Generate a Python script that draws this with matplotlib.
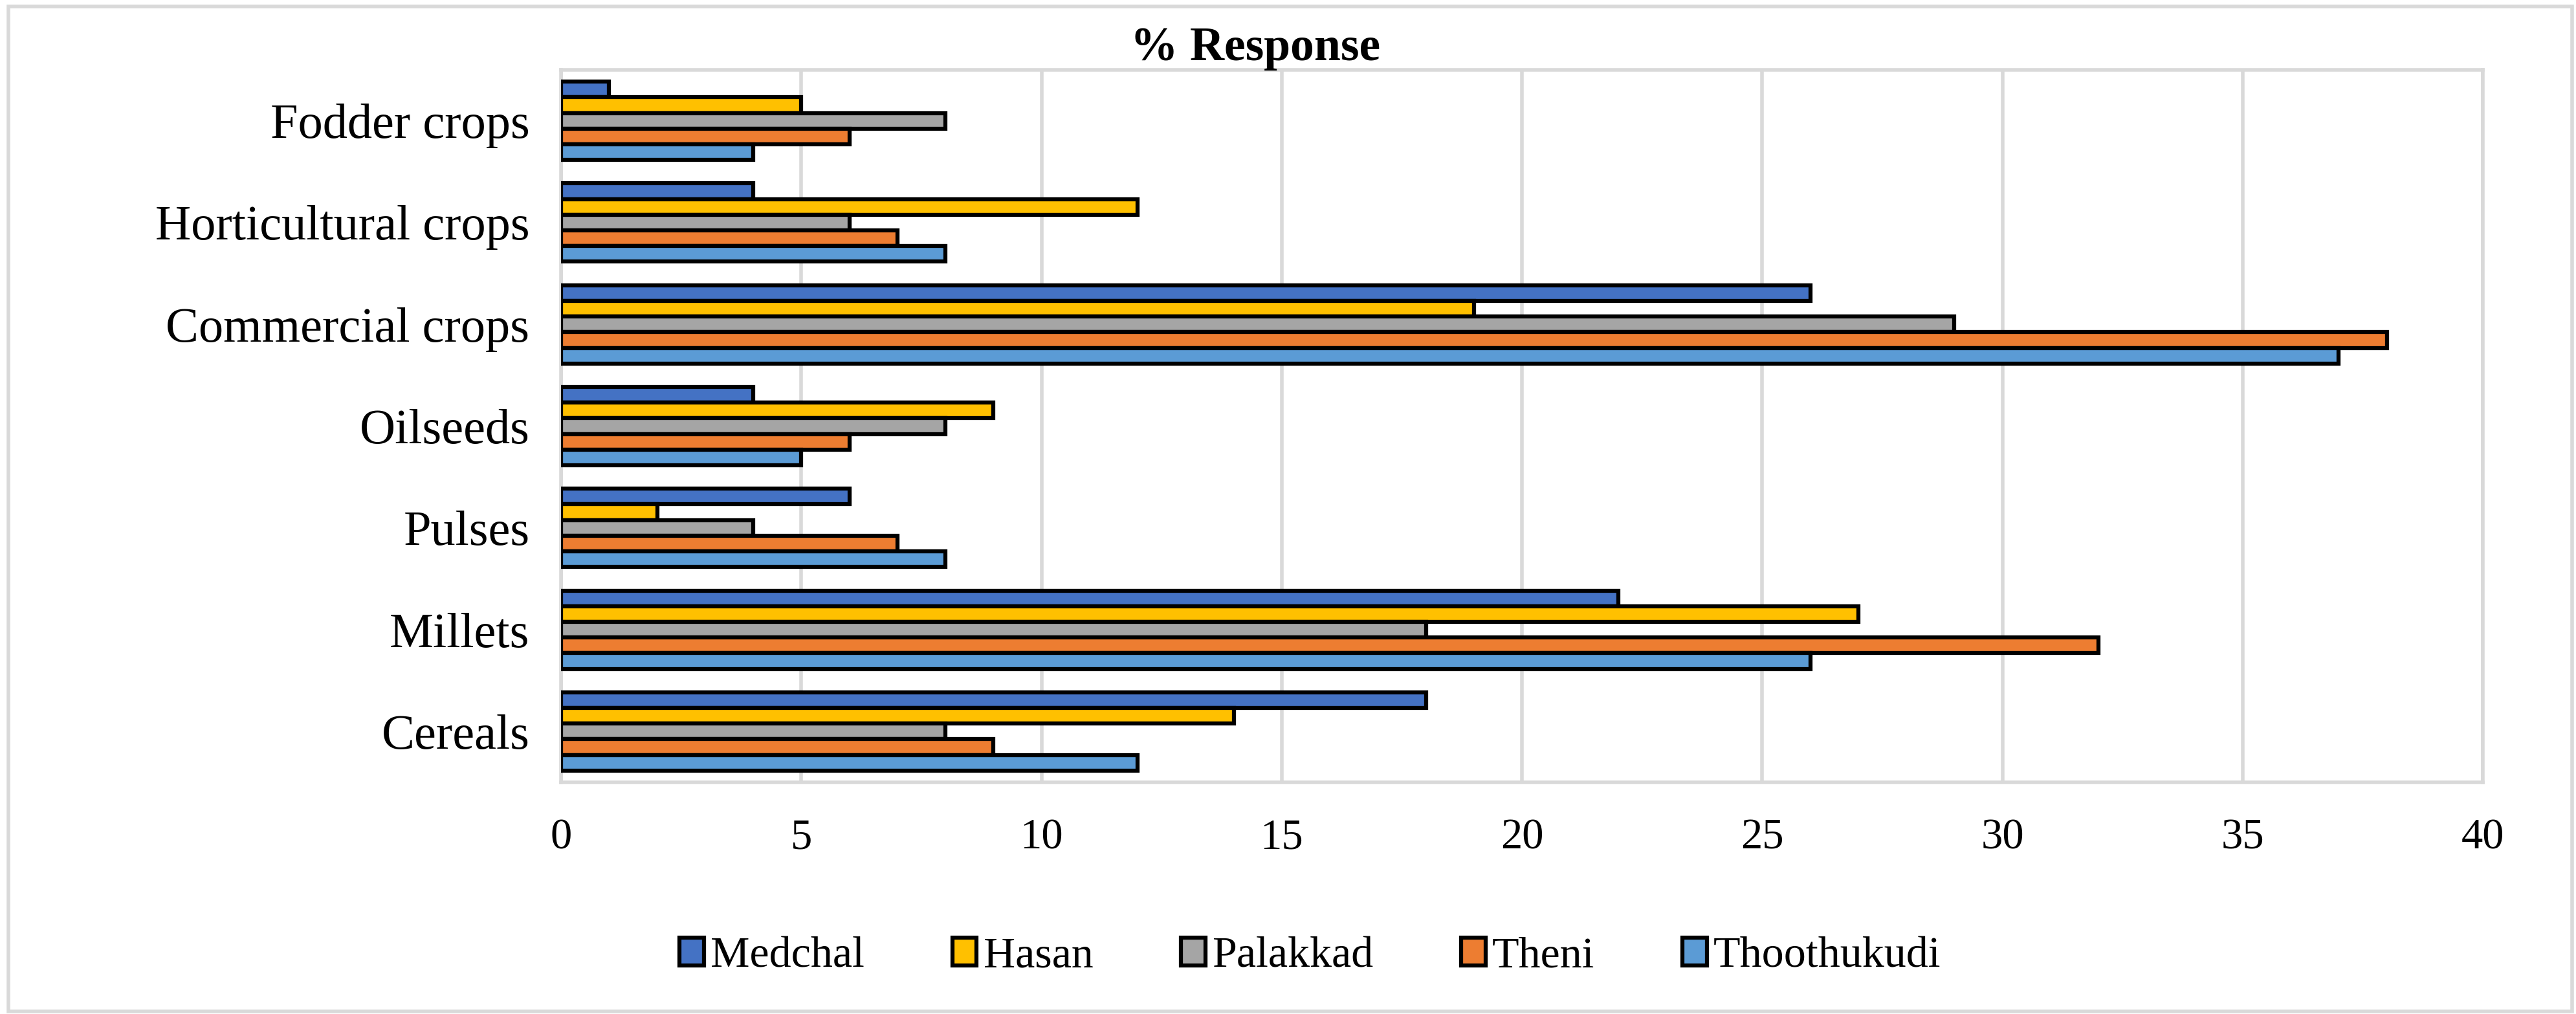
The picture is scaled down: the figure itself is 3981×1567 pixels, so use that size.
import numpy as np
import matplotlib
matplotlib.use('Agg')
import matplotlib.pyplot as plt
from matplotlib.patches import Rectangle

categories = ['Cereals', 'Millets', 'Pulses', 'Oilseeds', 'Commercial crops',
              'Horticultural crops', 'Fodder crops']
districts = ['Medchal', 'Hasan', 'Palakkad', 'Theni', 'Thoothukudi']
medchal = [18, 22, 6, 4, 26, 4, 1]
hasan = [14, 27, 2, 9, 19, 12, 5]
palakkad = [8, 18, 4, 8, 29, 6, 8]
theni = [9, 32, 7, 6, 38, 7, 6]
thoothukudi = [12, 26, 8, 5, 37, 8, 4]
xticks = [0, 5, 10, 15, 20, 25, 30, 35, 40]

series = [medchal, hasan, palakkad, theni, thoothukudi]
colors = ['#4472C4', '#FFC000', '#A5A5A5', '#ED7D31', '#5B9BD5']

plt.rcParams['font.family'] = ['Liberation Serif', 'DejaVu Serif']

fig = plt.figure(figsize=(39.81, 15.67), dpi=100)
ax = fig.add_axes([867 / 3981, 1 - 1209 / 1567, (3837 - 867) / 3981, (1209 - 108) / 1567])

y = np.arange(len(categories))
h = 0.77 / len(series)
for i, (vals, col, name) in enumerate(zip(series, colors, districts)):
    offs = (2 - i) * h
    ax.barh(y + offs, vals, height=h, color=col, edgecolor='black',
            linewidth=4.5, label=name, zorder=3)

ax.set_xlim(0, 40)
ax.set_ylim(-0.5, len(categories) - 0.5)
ax.set_xticks(xticks)
ax.set_yticks(y)
ax.set_yticklabels(categories, fontsize=55)
ax.tick_params(axis='x', labelsize=48, length=0, pad=40)
ax.tick_params(axis='y', length=0, pad=35)
ax.grid(axis='x', color='#D9D9D9', linewidth=4, zorder=0)
for s in ax.spines.values():
    s.set_color('#D9D9D9')
    s.set_linewidth(4)

fig.text(1940 / 3981, 1 - 75 / 1567, '% Response', ha='center', va='center',
         fontsize=53, fontweight='bold')

handles, labels = ax.get_legend_handles_labels()
leg = fig.legend(handles, labels, loc='center', bbox_to_anchor=(2025 / 3981, 1 - 1478 / 1567),
                 ncol=5, frameon=False, fontsize=49, handlelength=0.55, handleheight=0.6,
                 handletextpad=0.15, columnspacing=2.0)

fig.patches.append(Rectangle((13 / 3981, 4 / 1567), (3975 - 13) / 3981, (1557 - 4) / 1567,
                             transform=fig.transFigure, fill=False, edgecolor='#D9D9D9',
                             linewidth=4))

fig.savefig('out.png', dpi=100, facecolor='white')
